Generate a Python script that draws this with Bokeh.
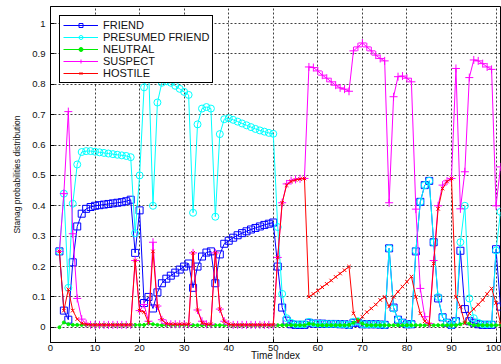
from bokeh.plotting import figure
from bokeh.models import Range1d, FixedTicker, Legend, LegendItem
from bokeh.embed import file_html
from bokeh.resources import INLINE

time_index = list(range(2, 102))

friend = [0.25, 0.055, 0.025, 0.214, 0.332, 0.374, 0.39, 0.396, 0.4, 0.402,
          0.404, 0.406, 0.408, 0.41, 0.412, 0.415, 0.42, 0.245, 0.385, 0.08,
          0.1, 0.062, 0.115, 0.145, 0.16, 0.17, 0.18, 0.19, 0.2, 0.21,
          0.13, 0.2, 0.233, 0.246, 0.25, 0.145, 0.24, 0.275, 0.285, 0.295,
          0.303, 0.31, 0.316, 0.322, 0.327, 0.332, 0.337, 0.341, 0.345, 0.2,
          0.065, 0.022, 0.01, 0.008, 0.008, 0.008, 0.015, 0.012, 0.012, 0.012,
          0.011, 0.011, 0.011, 0.01, 0.01, 0.008, 0.015, 0.015, 0.01, 0.01,
          0.01, 0.01, 0.009, 0.008, 0.26, 0.065, 0.025, 0.015, 0.01, 0.01,
          0.25, 0.413, 0.468, 0.482, 0.28, 0.095, 0.033, 0.015, 0.008, 0.02,
          0.252, 0.06, 0.02, 0.015, 0.01, 0.008, 0.008, 0.008, 0.257, 0.068]

presumed_friend = [0.25, 0.44, 0.13, 0.407, 0.536, 0.577, 0.58, 0.58, 0.578, 0.576,
                   0.574, 0.572, 0.57, 0.568, 0.566, 0.564, 0.56, 0.31, 0.5, 0.79,
                   0.86, 0.4, 0.74, 0.805, 0.81, 0.805, 0.795, 0.785, 0.775, 0.765,
                   0.377, 0.668, 0.72, 0.725, 0.72, 0.364, 0.636, 0.685, 0.688, 0.683,
                   0.677, 0.671, 0.665, 0.659, 0.653, 0.648, 0.644, 0.64, 0.637, 0.33,
                   0.11, 0.03, 0.015, 0.01, 0.01, 0.01, 0.018, 0.013, 0.012, 0.012,
                   0.011, 0.011, 0.011, 0.01, 0.01, 0.008, 0.018, 0.02, 0.01, 0.01,
                   0.01, 0.01, 0.009, 0.008, 0.26, 0.062, 0.025, 0.015, 0.01, 0.01,
                   0.252, 0.413, 0.468, 0.482, 0.28, 0.1, 0.033, 0.015, 0.008, 0.02,
                   0.28, 0.4, 0.095, 0.03, 0.015, 0.01, 0.01, 0.01, 0.253, 0.38]

neutral = [0.0, 0.016, 0.01, 0.008, 0.008, 0.008, 0.008, 0.008, 0.008, 0.008,
           0.008, 0.008, 0.008, 0.008, 0.008, 0.008, 0.008, 0.008, 0.008, 0.008,
           0.012, 0.01, 0.008, 0.007, 0.007, 0.007, 0.007, 0.007, 0.007, 0.007,
           0.007, 0.007, 0.007, 0.007, 0.007, 0.007, 0.007, 0.007, 0.007, 0.007,
           0.007, 0.007, 0.007, 0.007, 0.007, 0.007, 0.007, 0.007, 0.007, 0.007,
           0.007, 0.007, 0.007, 0.007, 0.007, 0.007, 0.012, 0.01, 0.007, 0.007,
           0.007, 0.007, 0.007, 0.007, 0.007, 0.008, 0.015, 0.024, 0.012, 0.007,
           0.007, 0.007, 0.007, 0.007, 0.007, 0.007, 0.007, 0.007, 0.007, 0.007,
           0.007, 0.007, 0.007, 0.007, 0.007, 0.007, 0.007, 0.007, 0.007, 0.007,
           0.01, 0.016, 0.012, 0.007, 0.007, 0.007, 0.007, 0.007, 0.007, 0.008]

suspect = [0.25, 0.44, 0.71, 0.308, 0.095, 0.027, 0.012, 0.008, 0.008, 0.008,
           0.008, 0.008, 0.008, 0.008, 0.008, 0.008, 0.008, 0.22, 0.055, 0.075,
           0.02, 0.28, 0.07, 0.025, 0.012, 0.01, 0.01, 0.01, 0.01, 0.01,
           0.245, 0.057, 0.02, 0.01, 0.01, 0.245, 0.06, 0.02, 0.01, 0.008,
           0.008, 0.008, 0.008, 0.008, 0.008, 0.008, 0.008, 0.008, 0.008, 0.23,
           0.41, 0.472, 0.483, 0.487, 0.489, 0.49, 0.857, 0.855, 0.844, 0.83,
           0.82, 0.808, 0.797, 0.788, 0.784, 0.777, 0.91, 0.923, 0.936, 0.923,
           0.91, 0.896, 0.885, 0.877, 0.41, 0.759, 0.825, 0.827, 0.82, 0.808,
           0.389, 0.128, 0.035, 0.012, 0.22, 0.4, 0.468, 0.482, 0.49, 0.852,
           0.39, 0.512, 0.822, 0.88, 0.877, 0.868, 0.857, 0.849, 0.4, 0.528]

hostile = [0.25, 0.055, 0.125, 0.055, 0.027, 0.013, 0.01, 0.008, 0.008, 0.008,
           0.008, 0.008, 0.008, 0.008, 0.008, 0.008, 0.008, 0.22, 0.055, 0.05,
           0.015, 0.25, 0.07, 0.025, 0.012, 0.01, 0.01, 0.01, 0.01, 0.01,
           0.245, 0.057, 0.015, 0.01, 0.01, 0.245, 0.06, 0.02, 0.01, 0.008,
           0.008, 0.008, 0.008, 0.008, 0.008, 0.008, 0.008, 0.008, 0.008, 0.23,
           0.41, 0.468, 0.48, 0.485, 0.488, 0.49, 0.1, 0.11, 0.121, 0.132,
           0.143, 0.154, 0.166, 0.177, 0.188, 0.2, 0.046, 0.019, 0.035, 0.05,
           0.062, 0.075, 0.09, 0.1, 0.068, 0.1, 0.117, 0.134, 0.15, 0.167,
           0.1, 0.046, 0.02, 0.01, 0.21, 0.39, 0.457, 0.48, 0.49, 0.1,
           0.068, 0.013, 0.046, 0.06, 0.075, 0.09, 0.11, 0.128, 0.08, 0.013]

series_names = ["FRIEND", "PRESUMED FRIEND", "NEUTRAL", "SUSPECT", "HOSTILE"]
xtick_vals = [0, 10, 20, 30, 40, 50, 60, 70, 80, 90, 100]
ytick_vals = [0, 0.1, 0.2, 0.3, 0.4, 0.5, 0.6, 0.7, 0.8, 0.9, 1]
ytick_labels = ["0", "0.1", "0.2", "0.3", "0.4", "0.5", "0.6", "0.7", "0.8", "0.9", "1"]

FONT = "Liberation Sans"

p = figure(width=501, height=364, x_range=Range1d(0, 101), y_range=Range1d(-0.05, 1.056),
           output_backend="svg", toolbar_location=None,
           min_border_left=50, min_border_right=1, min_border_top=6, min_border_bottom=22)

p.background_fill_color = "white"
p.border_fill_color = "white"
p.outline_line_color = "black"
p.outline_line_alpha = 1
p.outline_line_width = 1

p.xaxis.ticker = FixedTicker(ticks=xtick_vals)
p.yaxis.ticker = FixedTicker(ticks=ytick_vals)
p.yaxis.major_label_overrides = {v: l for v, l in zip(ytick_vals, ytick_labels)}

for ax in (p.xaxis[0], p.yaxis[0]):
    ax.axis_line_color = "black"
    ax.major_tick_line_color = "black"
    ax.major_tick_in = 4
    ax.major_tick_out = 0
    ax.minor_tick_line_color = None
    ax.major_label_text_font = FONT
    ax.major_label_text_font_size = "9.5px"
    ax.major_label_text_color = "#111111"
    ax.axis_label_text_font = FONT
    ax.axis_label_text_font_style = "normal"
    ax.axis_label_text_color = "#111111"

p.xaxis.axis_label = "Time Index"
p.xaxis.axis_label_text_font_size = "10px"
p.xaxis.major_label_standoff = 2
p.xaxis.axis_label_standoff = -4
p.yaxis.axis_label = "Stanag probabilities distribution"
p.yaxis.axis_label_text_font_size = "8.5px"
p.yaxis.major_label_standoff = 5
p.yaxis.axis_label_standoff = 7

for g in (p.xgrid[0], p.ygrid[0]):
    g.grid_line_color = "black"
    g.grid_line_alpha = 0.75
    g.grid_line_dash = "2 2"
    g.grid_line_width = 1

styles = [
    (friend, "#0000FF", "square", 7, None),
    (presumed_friend, "#00FFFF", "circle", 7, None),
    (neutral, "#00EE00", "circle", 3, "#00EE00"),
    (suspect, "#FF00FF", "cross", 8, None),
    (hostile, "#FF0000", "x", 5, None),
]

items = []
for name, (vals, color, marker, size, fill) in zip(series_names, styles):
    ln = p.line(time_index, vals, line_color=color, line_width=1)
    sc = p.scatter(time_index, vals, marker=marker, size=size, line_color=color,
                   fill_color=fill, line_width=1)
    items.append(LegendItem(label=name, renderers=[ln, sc]))

legend = Legend(items=items, location="top_left")
legend.border_line_color = "black"
legend.border_line_width = 1
legend.border_line_alpha = 1
legend.background_fill_color = "white"
legend.background_fill_alpha = 1
legend.label_text_font = FONT
legend.label_text_font_size = "11px"
legend.label_text_line_height = 1.0
legend.label_text_color = "#111111"
legend.glyph_width = 35
legend.glyph_height = 10
legend.label_height = 10
legend.spacing = 0
legend.padding = 3
legend.margin = 9
legend.label_standoff = 5
p.add_layout(legend)

open("out.html", "w").write(file_html(p, INLINE))
